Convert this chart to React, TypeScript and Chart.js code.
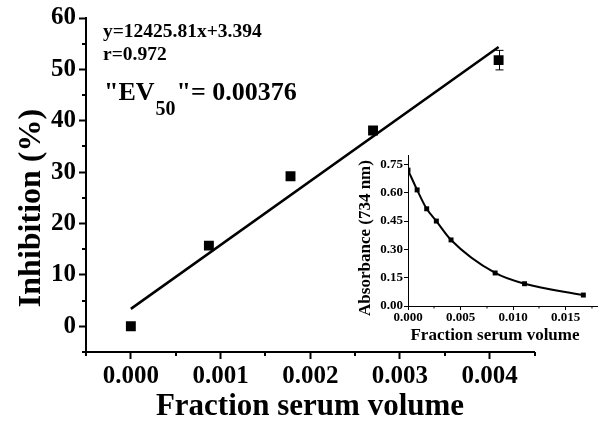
import React, { useEffect, useRef } from "react";
import { Chart, registerables } from "chart.js";

Chart.register(...registerables);

const F = '"Liberation Serif", "Times New Roman", serif';

// Main chart data
const mainX = [0, 0.00087, 0.00178, 0.0027, 0.0041];
const mainY = [0, 15.7, 29.2, 38.1, 51.8];
const mainErr = [0, 0, 0, 0, 1.9];
const fitX = [0, 0.0041];
const fitY = [3.394, 54.34];
const mainXTicks = [0, 0.001, 0.002, 0.003, 0.004];
const mainXMinor = [-0.0005, 0.0005, 0.0015, 0.0025, 0.0035, 0.0045];
const mainYTicks = [0, 10, 20, 30, 40, 50, 60];
const mainYMinor = [-5, 5, 15, 25, 35, 45, 55];

// Inset data
const insetX = [0, 0.00087, 0.00178, 0.0027, 0.0041, 0.0083, 0.0111, 0.0167];
const insetY = [0.72, 0.615, 0.515, 0.45, 0.35, 0.175, 0.118, 0.058];
const insetXTicks = [0, 0.005, 0.01, 0.015];
const insetXMinor = [0.0025, 0.0075, 0.0125, 0.0175];
const insetYTicks = [0, 0.15, 0.3, 0.45, 0.6, 0.75];

const eqText = "y=12425.81x+3.394";
const rText = "r=0.972";
const xTitle = "Fraction serum volume";
const yTitle = "Inhibition (%)";
const insetYTitle = "Absorbance (734 nm)";

function minorPlugin(id: string, xs: number[], ys: number[], len: number, w: number) {
  return {
    id,
    afterDraw(chart: any) {
      const ctx = chart.ctx;
      const sx = chart.scales.x;
      const sy = chart.scales.y;
      const a = chart.chartArea;
      ctx.save();
      ctx.strokeStyle = "#000";
      ctx.lineWidth = w;
      ctx.beginPath();
      xs.forEach((v) => {
        const p = Math.round(sx.getPixelForValue(v));
        ctx.moveTo(p, a.bottom);
        ctx.lineTo(p, a.bottom + len);
      });
      ys.forEach((v) => {
        const p = Math.round(sy.getPixelForValue(v));
        ctx.moveTo(a.left, p);
        ctx.lineTo(a.left - len, p);
      });
      ctx.stroke();
      ctx.restore();
    },
  };
}

const errorPlugin = {
  id: "errbars",
  beforeDatasetsDraw(chart: any) {
    const ctx = chart.ctx;
    const sx = chart.scales.x;
    const sy = chart.scales.y;
    ctx.save();
    ctx.strokeStyle = "#000";
    ctx.lineWidth = 1;
    mainX.forEach((xv, i) => {
      const e = mainErr[i];
      if (!e) return;
      const px = Math.round(sx.getPixelForValue(xv)) + 0.5;
      const t = sy.getPixelForValue(mainY[i] + e);
      const b = sy.getPixelForValue(mainY[i] - e);
      ctx.beginPath();
      ctx.moveTo(px, t);
      ctx.lineTo(px, b);
      ctx.moveTo(px - 4, t);
      ctx.lineTo(px + 4, t);
      ctx.moveTo(px - 4, b);
      ctx.lineTo(px + 4, b);
      ctx.stroke();
    });
    ctx.restore();
  },
};

const mainTextPlugin = {
  id: "maintext",
  afterDraw(chart: any) {
    const ctx = chart.ctx;
    ctx.save();
    ctx.fillStyle = "#000";
    ctx.textAlign = "left";
    ctx.textBaseline = "alphabetic";
    ctx.font = `bold 19.5px ${F}`;
    ctx.fillText(eqText, 103, 36.5);
    ctx.fillText(rText, 103, 60);
    // EV50 line
    let x = 104;
    const base = 100;
    ctx.font = `bold 26px ${F}`;
    ctx.fillText('"EV', x, base);
    x += ctx.measureText('"EV').width + 1;
    ctx.font = `bold 20px ${F}`;
    ctx.fillText("50", x, base + 15);
    x += ctx.measureText("50").width + 1;
    ctx.font = `bold 26px ${F}`;
    ctx.fillText('"= 0.00376', x, base);
    // axis titles
    ctx.font = `bold 31px ${F}`;
    ctx.textAlign = "center";
    ctx.fillText(xTitle, 310, 415);
    ctx.save();
    ctx.translate(39.5, 208);
    ctx.rotate(-Math.PI / 2);
    ctx.font = `bold 32px ${F}`;
    ctx.fillText(yTitle, 0, 0);
    ctx.restore();
    ctx.restore();
  },
};

const insetTextPlugin = {
  id: "insettext",
  afterDraw(chart: any) {
    const ctx = chart.ctx;
    ctx.save();
    ctx.fillStyle = "#000";
    ctx.textAlign = "center";
    ctx.textBaseline = "alphabetic";
    ctx.font = `bold 17px ${F}`;
    ctx.fillText(xTitle, 155, 195);
    ctx.translate(30, 93);
    ctx.rotate(-Math.PI / 2);
    ctx.fillText(insetYTitle, 0, 0);
    ctx.restore();
  },
};

export default function App() {
  const mainRef = useRef<HTMLCanvasElement>(null);
  const insetRef = useRef<HTMLCanvasElement>(null);

  useEffect(() => {
    const tickFont = { family: F, size: 25, weight: "bold" as const };
    const main = new Chart(mainRef.current!, {
      type: "scatter",
      data: {
        datasets: [
          {
            data: fitX.map((x, i) => ({ x, y: fitY[i] })),
            showLine: true,
            borderColor: "#000",
            borderWidth: 2.5,
            pointRadius: 0,
          },
          {
            data: mainX.map((x, i) => ({ x, y: mainY[i] })),
            pointStyle: "rect",
            pointRadius: 7,
            backgroundColor: "#000",
            borderWidth: 0,
          },
        ],
      },
      options: {
        animation: false,
        responsive: false,
        events: [],
        layout: { padding: { left: 0, right: 68.5, top: 18, bottom: 0 } },
        plugins: { legend: { display: false }, tooltip: { enabled: false } },
        scales: {
          x: {
            type: "linear",
            min: -0.0005,
            max: 0.0045,
            afterBuildTicks: (s: any) => {
              s.ticks = mainXTicks.map((v) => ({ value: v }));
            },
            afterFit: (s: any) => {
              s.height = 69;
            },
            ticks: {
              callback: (v: any) => Number(v).toFixed(3),
              font: tickFont,
              color: "#000",
              padding: 3,
              maxRotation: 0,
              autoSkip: false,
            },
            grid: { drawOnChartArea: false, tickLength: 7, tickWidth: 2, tickColor: "#000" },
            border: { color: "#000", width: 2 },
          },
          y: {
            type: "linear",
            min: -5,
            max: 60,
            afterBuildTicks: (s: any) => {
              s.ticks = mainYTicks.map((v) => ({ value: v }));
            },
            afterFit: (s: any) => {
              s.width = 86;
            },
            ticks: {
              callback: (v: any) => String(v),
              font: tickFont,
              color: "#000",
              padding: 3,
              autoSkip: false,
            },
            grid: { drawOnChartArea: false, tickLength: 7, tickWidth: 2, tickColor: "#000" },
            border: { color: "#000", width: 2 },
          },
        },
      },
      plugins: [minorPlugin("mainMinor", mainXMinor, mainYMinor, 4, 2), errorPlugin, mainTextPlugin],
    });

    const insetFont = { family: F, size: 13, weight: "bold" as const };
    const inset = new Chart(insetRef.current!, {
      type: "scatter",
      data: {
        datasets: [
          {
            data: insetX.map((x, i) => ({ x, y: insetY[i] })),
            showLine: true,
            cubicInterpolationMode: "monotone",
            borderColor: "#000",
            borderWidth: 2,
            pointStyle: "rect",
            pointRadius: 3.5,
            backgroundColor: "#000",
            pointBorderWidth: 0,
          },
        ],
      },
      options: {
        animation: false,
        responsive: false,
        events: [],
        layout: { padding: { left: 0, right: 6, top: 10, bottom: 0 } },
        plugins: { legend: { display: false }, tooltip: { enabled: false } },
        scales: {
          x: {
            type: "linear",
            min: 0,
            max: 0.018,
            afterBuildTicks: (s: any) => {
              s.ticks = insetXTicks.map((v) => ({ value: v }));
            },
            afterFit: (s: any) => {
              s.height = 44;
            },
            ticks: {
              callback: (v: any) => Number(v).toFixed(3),
              font: insetFont,
              color: "#000",
              padding: 0,
              maxRotation: 0,
              autoSkip: false,
            },
            grid: { drawOnChartArea: false, tickLength: 4, tickWidth: 1, tickColor: "#000" },
            border: { color: "#000", width: 1 },
          },
          y: {
            type: "linear",
            min: 0,
            max: 0.8,
            afterBuildTicks: (s: any) => {
              s.ticks = insetYTicks.map((v) => ({ value: v }));
            },
            afterFit: (s: any) => {
              s.width = 68;
            },
            ticks: {
              callback: (v: any) => Number(v).toFixed(2),
              font: insetFont,
              color: "#000",
              padding: 1,
              autoSkip: false,
            },
            grid: { drawOnChartArea: false, tickLength: 4, tickWidth: 1, tickColor: "#000" },
            border: { color: "#000", width: 1 },
          },
        },
      },
      plugins: [minorPlugin("insetMinor", insetXMinor, [], 2.5, 1), insetTextPlugin],
    });

    return () => {
      main.destroy();
      inset.destroy();
    };
  }, []);

  return (
    <div style={{ position: "absolute", left: 0, top: 0, width: 603, height: 421, background: "#fff" }}>
      <canvas ref={mainRef} width={603} height={421} style={{ position: "absolute", left: 0, top: 0 }} />
      <canvas ref={insetRef} width={263} height={205} style={{ position: "absolute", left: 340, top: 145 }} />
    </div>
  );
}
